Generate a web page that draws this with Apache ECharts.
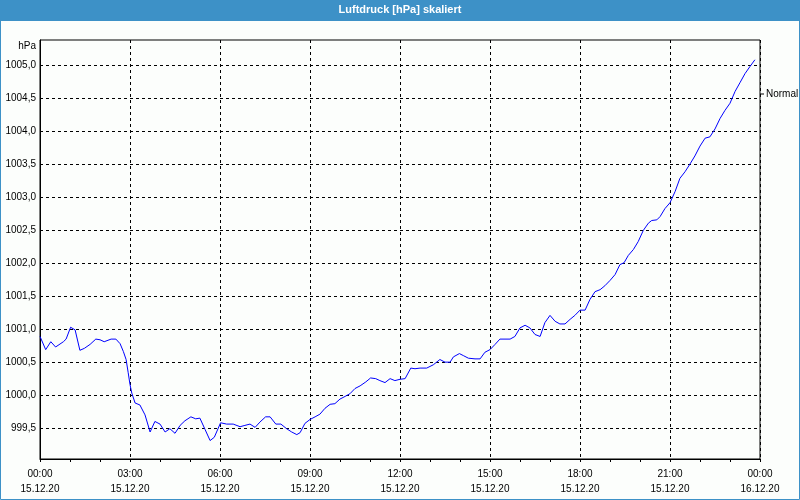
<!DOCTYPE html>
<html><head><meta charset="utf-8">
<script src="https://cdn.jsdelivr.net/npm/echarts@6/dist/echarts.min.js"></script>
<style>html,body{margin:0;padding:0;background:#fcfefc}#c{width:800px;height:500px}</style>
</head><body><div id="c"></div>
<script>
const titleText = 'Luftdruck [hPa] skaliert';
const unitName = 'hPa';
const seriesName = 'Normal';
const xTickLabels = ['00:00\n15.12.20','03:00\n15.12.20','06:00\n15.12.20','09:00\n15.12.20','12:00\n15.12.20','15:00\n15.12.20','18:00\n15.12.20','21:00\n15.12.20','00:00\n16.12.20'];
const yTicks = [999.5,1000.0,1000.5,1001.0,1001.5,1002.0,1002.5,1003.0,1003.5,1004.0,1004.5,1005.0];
const hours = [0,0.19,0.36,0.52,0.78,0.87,1.02,1.17,1.33,1.48,1.67,1.86,2.0,2.14,2.37,2.53,2.67,2.78,2.87,2.94,3.0,3.06,3.17,3.33,3.5,3.67,3.83,4.0,4.17,4.33,4.5,4.67,4.83,5.03,5.19,5.33,5.5,5.67,5.81,6.02,6.22,6.44,6.67,6.83,7.0,7.17,7.33,7.52,7.67,7.86,8.03,8.22,8.39,8.56,8.67,8.83,9.0,9.17,9.33,9.5,9.67,9.83,10.0,10.17,10.33,10.5,10.67,10.86,11.02,11.19,11.33,11.5,11.67,11.83,12.0,12.17,12.36,12.5,12.67,12.89,13.11,13.33,13.5,13.67,13.78,13.98,14.11,14.28,14.5,14.67,14.83,15.0,15.17,15.33,15.5,15.67,15.83,16.0,16.17,16.33,16.5,16.67,16.83,17.0,17.17,17.33,17.5,17.67,17.83,18.0,18.17,18.33,18.5,18.67,18.83,19.0,19.17,19.33,19.47,19.61,19.78,19.94,20.11,20.28,20.39,20.56,20.67,20.83,21.0,21.17,21.33,21.5,21.67,21.83,22.0,22.17,22.33,22.5,22.67,22.83,23.0,23.17,23.33,23.5,23.67,23.83];
const pressure = [1000.89,1000.69,1000.81,1000.73,1000.81,1000.85,1001.03,1000.99,1000.68,1000.71,1000.77,1000.85,1000.84,1000.81,1000.85,1000.85,1000.78,1000.66,1000.54,1000.34,1000.16,1000.03,999.88,999.85,999.70,999.44,999.60,999.56,999.44,999.49,999.42,999.54,999.61,999.67,999.64,999.65,999.48,999.31,999.36,999.58,999.56,999.56,999.52,999.54,999.56,999.51,999.59,999.67,999.67,999.56,999.56,999.49,999.44,999.40,999.43,999.57,999.63,999.67,999.71,999.80,999.86,999.87,999.94,999.98,1000.02,1000.10,1000.14,1000.20,1000.26,1000.25,1000.22,1000.19,1000.25,1000.22,1000.24,1000.25,1000.41,1000.40,1000.41,1000.41,1000.46,1000.54,1000.50,1000.50,1000.58,1000.63,1000.60,1000.56,1000.55,1000.55,1000.65,1000.69,1000.77,1000.85,1000.85,1000.85,1000.89,1001.02,1001.06,1001.02,1000.92,1000.89,1001.10,1001.21,1001.12,1001.08,1001.08,1001.15,1001.21,1001.29,1001.29,1001.45,1001.57,1001.60,1001.66,1001.74,1001.83,1001.98,1002.01,1002.12,1002.21,1002.33,1002.50,1002.61,1002.65,1002.66,1002.71,1002.83,1002.92,1003.09,1003.29,1003.39,1003.51,1003.63,1003.78,1003.90,1003.92,1004.04,1004.20,1004.32,1004.43,1004.61,1004.74,1004.88,1004.99,1005.09];

const FONT = 'Liberation Sans';
const chart = echarts.init(document.getElementById('c'), null, {renderer: 'canvas'});
chart.setOption({
  animation: false,
  backgroundColor: '#fcfefc',
  graphic: [
    {type: 'rect', z: -1, shape: {x: 0, y: 0, width: 800, height: 21}, style: {fill: '#3d91c7'}},
    {type: 'rect', z: -1, shape: {x: 0.5, y: 0.5, width: 799, height: 499}, style: {fill: null, stroke: '#3d91c7', lineWidth: 1}}
  ],
  title: {
    text: titleText, left: 'center', top: 4, padding: 0,
    textStyle: {color: '#ffffff', fontSize: 11, fontWeight: 'bold', fontFamily: FONT}
  },
  legend: {
    data: [seriesName], left: 760, top: 89, icon: 'rect', itemWidth: 4, itemHeight: 1, itemGap: 0,
    padding: 0,
    itemStyle: {color: '#000'},
    textStyle: {color: '#000', fontSize: 10, fontFamily: FONT, padding: [0, 0, 0, -3]}
  },
  grid: {left: 40, right: 40, top: 40, bottom: 41, show: true, borderColor: '#000', borderWidth: 1, backgroundColor: 'transparent'},
  xAxis: {
    type: 'value', min: 0, max: 24, interval: 3,
    axisLine: {show: true, lineStyle: {color: '#000', width: 1}},
    axisTick: {show: true, length: 3, inside: false, lineStyle: {color: '#000'}},
    minorTick: {show: true, splitNumber: 3, length: 3, lineStyle: {color: '#000'}},
    splitLine: {show: true, lineStyle: {color: '#000', type: [3, 3], width: 1}},
    axisLabel: {
      margin: 8, color: '#000', fontSize: 10, fontFamily: FONT, lineHeight: 15,
      showMinLabel: true, showMaxLabel: true,
      formatter: v => xTickLabels[Math.round(v / 3)]
    }
  },
  yAxis: {
    type: 'value', min: 999.03, max: 1005.39,
    name: unitName, nameLocation: 'end', nameGap: -6,
    nameTextStyle: {color: '#000', fontSize: 10, fontFamily: FONT, align: 'right', verticalAlign: 'middle', padding: [0, 4, 0, 0]},
    axisLine: {show: true, lineStyle: {color: '#000'}},
    axisTick: {show: false, customValues: yTicks},
    splitLine: {show: true, lineStyle: {color: '#000', type: [3, 3], width: 1}},
    axisLabel: {
      customValues: yTicks, margin: 4, color: '#000', fontSize: 10, fontFamily: FONT,
      formatter: v => v.toFixed(1).replace('.', ',')
    }
  },
  series: [{
    name: seriesName, type: 'line', showSymbol: false, symbol: 'none',
    data: hours.map((h, i) => [h, pressure[i]]),
    lineStyle: {color: '#0000ff', width: 1},
    itemStyle: {color: '#0000ff'}
  }]
});
</script></body></html>
